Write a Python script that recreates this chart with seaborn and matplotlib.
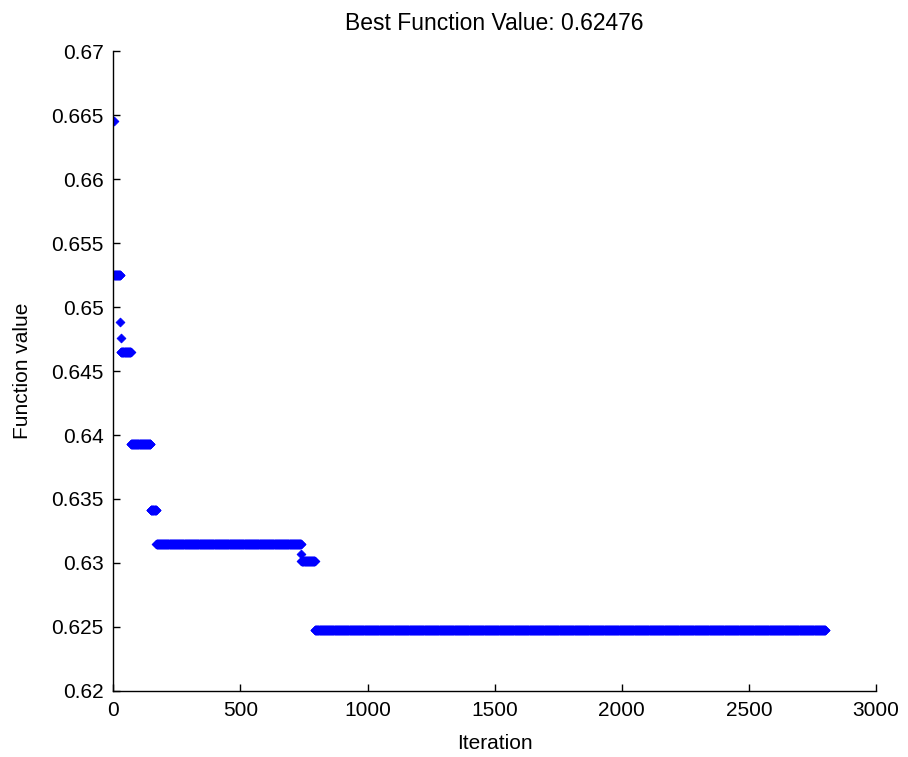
import numpy as np
import pandas as pd
import seaborn as sns
import matplotlib
matplotlib.use("Agg")
import matplotlib.pyplot as plt

# best value per iteration, stored as constant steps (first iter, last iter, value)
step_start = [1, 2, 28, 29, 30, 69, 147, 169, 739, 740, 793]
step_end = [1, 27, 28, 29, 68, 146, 168, 738, 739, 792, 2800]
step_value = [0.66452, 0.65252, 0.64884, 0.64758, 0.64646, 0.63927,
              0.63413, 0.63145, 0.63074, 0.63013, 0.62476]

xticks = [0, 500, 1000, 1500, 2000, 2500, 3000]
yticks = [0.62, 0.625, 0.63, 0.635, 0.64, 0.645, 0.65, 0.655, 0.66, 0.665, 0.67]
ytick_labels = ["0.62", "0.625", "0.63", "0.635", "0.64", "0.645",
                "0.65", "0.655", "0.66", "0.665", "0.67"]

iters, vals = [], []
for a, b, v in zip(step_start, step_end, step_value):
    n = b - a + 1
    iters.extend(range(a, b + 1))
    vals.extend([v] * n)
df = pd.DataFrame({"Iteration": iters, "Function value": vals})

sns.set_style("ticks")
plt.rcParams["font.family"] = ["Liberation Sans", "DejaVu Sans"]
plt.rcParams["text.color"] = "black"
plt.rcParams["axes.labelcolor"] = "black"

fig = plt.figure(figsize=(9.08, 7.57), dpi=100)
ax = fig.add_axes([0.1248, 0.0872, 0.8400, 0.8454])

sns.scatterplot(data=df, x="Iteration", y="Function value", ax=ax,
                marker="D", s=20, color="#0000ff", edgecolor="#0000ff",
                linewidth=0.6, legend=False)

ax.set_xlim(0, 3000)
ax.set_ylim(0.62, 0.67)
ax.set_xticks(xticks)
ax.set_yticks(yticks)
ax.set_yticklabels(ytick_labels)
ax.tick_params(direction="in", length=5, width=1, pad=7, labelsize=15,
               colors="black")
sns.despine(ax=ax)
for s in ["left", "bottom"]:
    ax.spines[s].set_linewidth(1)
    ax.spines[s].set_color("black")

ax.set_xlabel("Iteration", fontsize=15, labelpad=10)
ax.set_ylabel("Function value", fontsize=15, labelpad=14)
ax.set_title("Best Function Value: 0.62476", fontsize=16.5, pad=15)

fig.savefig("out.png", dpi=100)
